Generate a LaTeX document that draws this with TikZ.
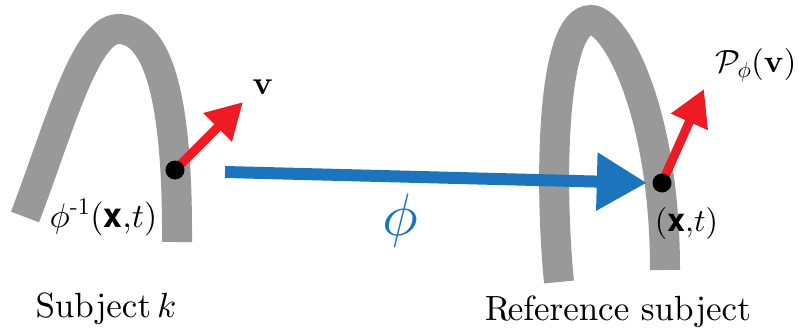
\documentclass[tikz,border=0pt]{standalone}
\usepackage{amsmath}
\usepackage[no-math]{fontspec}
\newfontfamily\herosfont{TeX Gyre Heros}
\DeclareFontShape{OT1}{cmr}{m}{n}{<->cmr10}{}
\DeclareFontShape{OT1}{cmr}{bx}{n}{<->cmbx10}{}
\DeclareFontShape{OML}{cmm}{m}{it}{<->cmmi10}{}
\DeclareFontShape{OML}{cmm}{b}{it}{<->cmmib10}{}
\DeclareFontShape{OMS}{cmsy}{m}{n}{<->cmsy10}{}
\DeclareFontShape{OMX}{cmex}{m}{n}{<->cmex10}{}
\newcommand{\cmtext}{\fontencoding{OT1}\fontfamily{cmr}\selectfont}
\newcommand{\bx}{\text{\herosfont\bfseries x}}
\usetikzlibrary{arrows.meta}
\definecolor{archgray}{RGB}{153,153,153}
\definecolor{phiblue}{RGB}{28,117,188}
\definecolor{vred}{RGB}{237,28,36}
\pgfdeclarelayer{fg}
\pgfsetlayers{main,fg}
\begin{document}
\begin{tikzpicture}[x=1pt,y=-1pt,
  arch/.style={draw=archgray, line width=30pt},
  bluearrow/.style={draw=phiblue, line width=12pt, -{Triangle[length=50pt,width=55pt]}},
  redarrow/.style={draw=vred, line width=9pt, -{Triangle[length=36pt,width=38pt]}},
  pt/.style={circle, fill=black, minimum size=19pt, inner sep=0pt},
  lbl/.style={font=\fontsize{33}{40}\selectfont\cmtext, inner sep=0pt, anchor=base}]
\useasboundingbox (0,0) rectangle (799,334);
% arches
\draw[arch] (25,217) .. controls (60,125) and (85,30) .. (118,29)
  .. controls (150,29) and (178,72) .. (177,242);
\draw[arch] (559,282) .. controls (549,180) and (552,20) .. (591,20)
  .. controls (615,20) and (665,110) .. (665,270);
% points
\begin{pgfonlayer}{fg}
\node[pt] (dotL) at (175,170) {};
\node[pt] (dotR) at (662,183) {};
\end{pgfonlayer}
\coordinate (bstart) at (225,172);
\coordinate (vtipL) at (243,102);
\coordinate (vtipR) at (704,89);
% arrows
\draw[bluearrow, shorten >=5.5pt] (bstart) -- (dotR.west);
\draw[redarrow] (dotL.center) -- (vtipL);
\draw[redarrow] (dotR.center) -- (vtipR);
% labels
\node[lbl, font=\fontsize{34}{40}\selectfont\cmtext] (phiinv) at (103.5,227) {$\phi^{\text{\cmtext-1}}(\bx{,}t)$};
\node[lbl, font=\fontsize{32}{38}\selectfont\cmtext] (xt) at (686.5,231) {$(\bx{,}t)$};
\node[lbl] (v) at (263,95) {$\mathbf{v}$};
\node[lbl, anchor=base east, font=\fontsize{32}{38}\selectfont\cmtext] (pv) at (796.5,73) {$\mathcal{P}_{\phi}(\mathbf{v})$};
\node[lbl, text=phiblue, font=\fontsize{60}{72}\selectfont] (phi) at (400,235) {$\phi$};
\node[lbl, font=\fontsize{35}{42}\selectfont\cmtext] (subk) at (106,317) {Subject\,$k$};
\node[lbl, font=\fontsize{35}{42}\selectfont\cmtext] (ref) at (618,320) {R\kern-0.08em eference subject};
\end{tikzpicture}
\end{document}
